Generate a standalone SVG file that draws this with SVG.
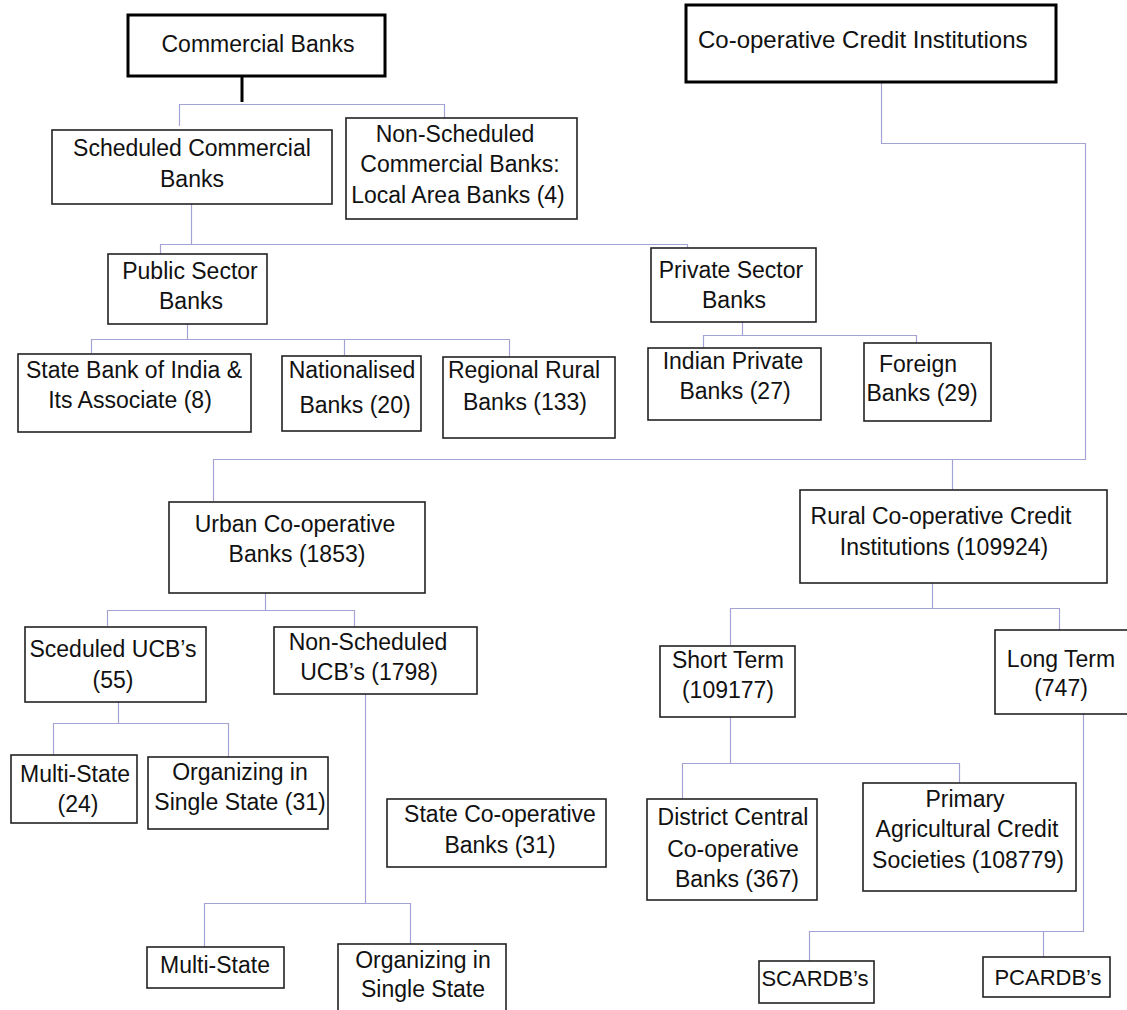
<svg xmlns="http://www.w3.org/2000/svg" width="1127" height="1010" viewBox="0 0 1127 1010">
<style>
.box{fill:#fff;stroke:#222;stroke-width:1.6}
.top{fill:#fff;stroke:#000;stroke-width:3}
.t{font-family:"Liberation Sans",Arial,sans-serif;font-size:23px;fill:#111;text-anchor:middle}
.s{font-size:22px}
.c{fill:none;stroke:#a3a3d6;stroke-width:1.2}
.k{fill:none;stroke:#000;stroke-width:3}
</style>
<rect width="1127" height="1010" fill="#fff"/>
<g id="connectors">
<path class="k" d="M242 76V102"/>
<path class="c" d="M179.5 126V104.5H444.5V120"/>
<path class="c" d="M191.5 204V244.5M160.5 254V244.5H687.5V248"/>
<path class="c" d="M187.5 324V339.5M91.5 353V339.5H509.5V357M344.5 339.5V355"/>
<path class="c" d="M742.5 322V335.5M703.5 348V335.5H916.5V343"/>
<path class="c" d="M881.5 82V143.5H1085.5V459.5H213.5V501M952.5 459.5V490"/>
<path class="c" d="M265.5 593V610.5M107.5 626V610.5H354.5V627"/>
<path class="c" d="M118.5 702V723.5M53.5 755V723.5H228.5V757"/>
<path class="c" d="M365.5 694V903.5M204.5 947V903.5H410.5V944"/>
<path class="c" d="M932.5 583V608.5M730.5 645V608.5H1059.5V630"/>
<path class="c" d="M730.5 717V763.5M682.5 799V763.5H959.5V783"/>
<path class="c" d="M1083.5 714V931.5H809.5V961M1043.5 931.5V957"/>
</g>
<g id="commercial-banks"><rect class="top" x="128" y="15" width="257" height="61"/><text class="t" x="258" y="52">Commercial Banks</text></g>
<g id="cooperative-credit-institutions"><rect class="top" x="686" y="5" width="370" height="77"/><text class="t" x="698" y="48" style="text-anchor:start;font-size:24px">Co-operative Credit Institutions</text></g>
<g id="scheduled-commercial-banks"><rect class="box" x="52" y="130" width="280" height="74"/><text class="t" x="192" y="156">Scheduled Commercial</text><text class="t" x="192" y="187">Banks</text></g>
<g id="non-scheduled-commercial-banks"><rect class="box" x="346" y="118" width="231" height="101"/><text class="t" x="455" y="142">Non-Scheduled</text><text class="t" x="460" y="172">Commercial Banks:</text><text class="t" x="458" y="203">Local Area Banks (4)</text></g>
<g id="public-sector-banks"><rect class="box" x="108" y="254" width="159" height="70"/><text class="t" x="190" y="279">Public Sector</text><text class="t" x="191" y="309">Banks</text></g>
<g id="private-sector-banks"><rect class="box" x="651" y="248" width="165" height="74"/><text class="t" x="731" y="278">Private Sector</text><text class="t" x="734" y="308">Banks</text></g>
<g id="state-bank-of-india"><rect class="box" x="18" y="354" width="233" height="78"/><text class="t" x="134" y="378">State Bank of India &amp;</text><text class="t" x="130" y="408">Its Associate (8)</text></g>
<g id="nationalised-banks"><rect class="box" x="282" y="356" width="139" height="75"/><text class="t" x="352" y="378">Nationalised</text><text class="t" x="355" y="413">Banks (20)</text></g>
<g id="regional-rural-banks"><rect class="box" x="443" y="357" width="172" height="81"/><text class="t" x="524" y="378">Regional Rural</text><text class="t" x="525" y="410">Banks (133)</text></g>
<g id="indian-private-banks"><rect class="box" x="648" y="348" width="173" height="72"/><text class="t" x="733" y="369">Indian Private</text><text class="t" x="735" y="399">Banks (27)</text></g>
<g id="foreign-banks"><rect class="box" x="864" y="343" width="127" height="78"/><text class="t" x="918" y="372">Foreign</text><text class="t" x="922" y="401">Banks (29)</text></g>
<g id="urban-cooperative-banks"><rect class="box" x="169" y="502" width="256" height="91"/><text class="t" x="295" y="532">Urban Co-operative</text><text class="t" x="297" y="562">Banks (1853)</text></g>
<g id="rural-cooperative-credit-institutions"><rect class="box" x="800" y="490" width="307" height="93"/><text class="t" x="941" y="524">Rural Co-operative Credit</text><text class="t" x="944" y="555">Institutions (109924)</text></g>
<g id="scheduled-ucbs"><rect class="box" x="25" y="627" width="181" height="75"/><text class="t" x="113" y="657">Sceduled UCB’s</text><text class="t" x="113" y="688">(55)</text></g>
<g id="non-scheduled-ucbs"><rect class="box" x="274" y="627" width="203" height="67"/><text class="t" x="368" y="650">Non-Scheduled</text><text class="t" x="369" y="680">UCB’s (1798)</text></g>
<g id="short-term"><rect class="box" x="660" y="646" width="135" height="71"/><text class="t" x="728" y="668">Short Term</text><text class="t" x="728" y="698">(109177)</text></g>
<g id="long-term"><rect class="box" x="995" y="630" width="140" height="84"/><text class="t" x="1061" y="667">Long Term</text><text class="t" x="1061" y="696">(747)</text></g>
<g id="multi-state-24"><rect class="box" x="11" y="755" width="126" height="68"/><text class="t" x="75" y="782">Multi-State</text><text class="t" x="78" y="812">(24)</text></g>
<g id="organizing-single-state-31"><rect class="box" x="148" y="757" width="180" height="72"/><text class="t" x="240" y="780">Organizing in</text><text class="t" x="240" y="810">Single State (31)</text></g>
<g id="state-cooperative-banks"><rect class="box" x="387" y="799" width="219" height="68"/><text class="t" x="500" y="822">State Co-operative</text><text class="t" x="500" y="853">Banks (31)</text></g>
<g id="district-central-cooperative-banks"><rect class="box" x="647" y="799" width="170" height="101"/><text class="t" x="733" y="825">District Central</text><text class="t" x="733" y="857">Co-operative</text><text class="t" x="737" y="887">Banks (367)</text></g>
<g id="primary-agricultural-credit-societies"><rect class="box" x="863" y="783" width="213" height="108"/><text class="t" x="965" y="807">Primary</text><text class="t" x="967" y="837">Agricultural Credit</text><text class="t" x="968" y="868">Societies (108779)</text></g>
<g id="multi-state"><rect class="box" x="147" y="947" width="137" height="41"/><text class="t" x="215" y="973">Multi-State</text></g>
<g id="organizing-single-state"><rect class="box" x="338" y="944" width="168" height="75"/><text class="t" x="423" y="968">Organizing in</text><text class="t" x="423" y="997">Single State</text></g>
<g id="scardbs"><rect class="box" x="759" y="961" width="115" height="42"/><text class="t s" x="815" y="986">SCARDB’s</text></g>
<g id="pcardbs"><rect class="box" x="983" y="957" width="127" height="40"/><text class="t s" x="1048" y="985">PCARDB’s</text></g>
</svg>
